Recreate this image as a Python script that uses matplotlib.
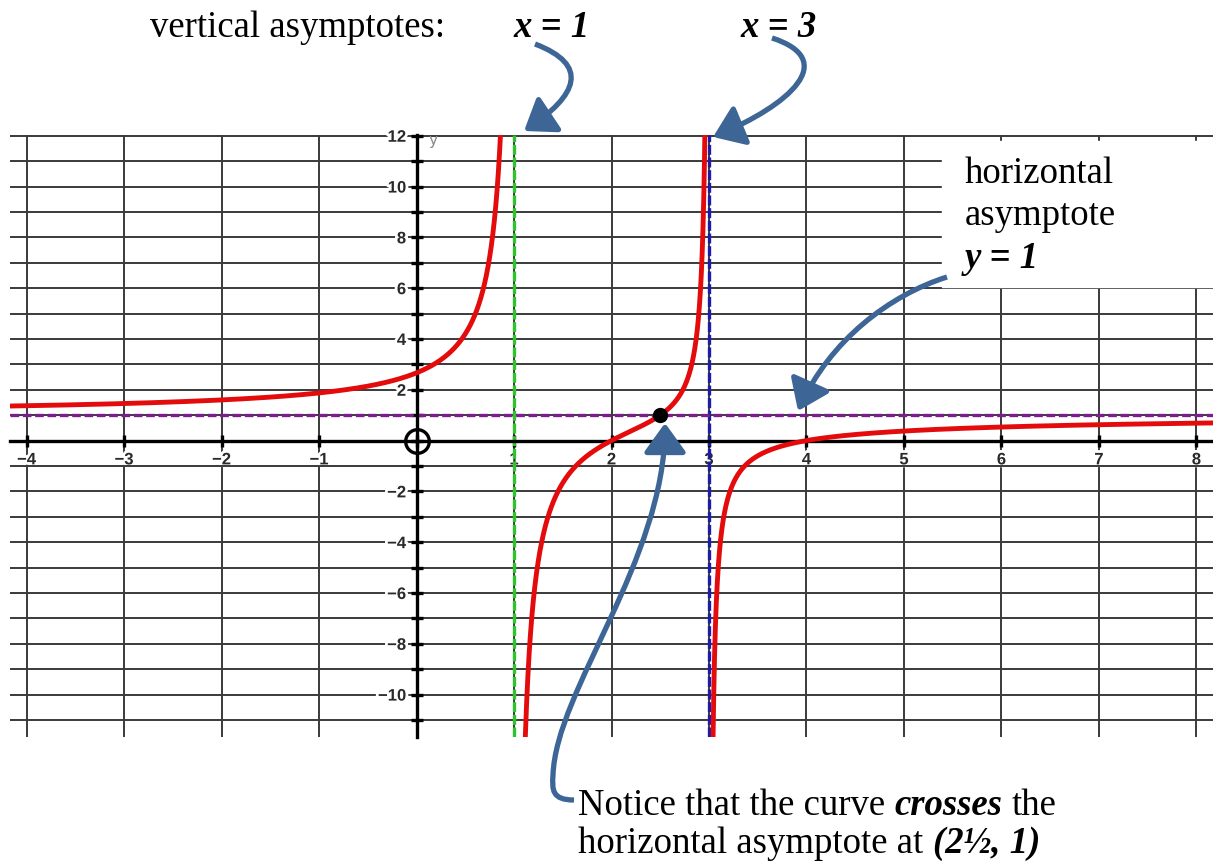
import numpy as np
import matplotlib
matplotlib.use("Agg")
from matplotlib import pyplot as plt
from matplotlib.patches import Rectangle, FancyArrowPatch
from matplotlib.path import Path
import matplotlib.patheffects as pe

# rational function: zeros, poles, horizontal asymptote
zeros = [2, 4]
poles = [1, 3]
h_asym = 1
cross_pt = (2.5, 1)

x_ticks = [-4, -3, -2, -1, 0, 1, 2, 3, 4, 5, 6, 7, 8]
y_ticks = list(range(-11, 13))

serif = "Liberation Serif"
fs = 26.5


def f(x):
    return h_asym * np.polyval(np.poly(zeros), x) / np.polyval(np.poly(poles), x)


fig = plt.figure(figsize=(12.13, 8.63), dpi=100)
ax = fig.add_axes([10/1213, 126/863, 1203/1213, 602/863])
ax.set_xlim(-4.17, 8.17)
ax.set_ylim(-11.67, 12.03)

# grid
ax.set_axisbelow(True)
ax.grid(True, color="#3a3a3a", lw=1.4)
ax.add_patch(Rectangle((5.39, 6.05), 3.0, 5.75, color="white", zorder=1))

# axes through origin
for s in ["top", "right"]:
    ax.spines[s].set_visible(False)
ax.spines["left"].set_position(("data", 0))
ax.spines["bottom"].set_position(("data", 0))
ax.spines["left"].set_linewidth(2.4)
ax.spines["bottom"].set_linewidth(2.4)

ax.set_xticks(x_ticks)
ax.set_xticklabels(["" if v == 0 else str(v).replace("-", "\u2212") for v in x_ticks])
ax.set_yticks(y_ticks)
ax.set_yticklabels(["" if (v == 0 or v % 2) else str(v).replace("-", "\u2212") for v in y_ticks])
ax.tick_params(direction="inout", length=9, width=2.4, color="black",
               labelsize=12, labelcolor="#2a2a2a")
ax.tick_params(axis="x", pad=4)
ax.tick_params(axis="y", pad=3)
halo = [pe.withStroke(linewidth=4, foreground="white")]
for lab in ax.get_xticklabels() + ax.get_yticklabels():
    lab.set_fontweight("bold")
    lab.set_family("Liberation Sans")
    lab.set_path_effects(halo)
ax.text(0.12, 11.8, "y", color="#888888", fontsize=11, va="center", ha="left")

# asymptotes
ax.axvline(poles[0], color="#2fc42f", lw=2.4, ls=(0, (3, 0.8)), zorder=2.5)
ax.axvline(poles[1], color="#1c1ca8", lw=2.4, ls=(0, (3, 0.8)), zorder=2.5)
ax.axhline(h_asym, color="#7d1c8c", lw=2.4, ls=(0, (2.6, 1.1)), zorder=2.5)

# curve, one branch between each pair of poles
xlo, xhi = ax.get_xlim()
edges = [xlo] + poles + [xhi]
for a, b in zip(edges[:-1], edges[1:]):
    xs = np.linspace(a + 1e-4, b - 1e-4, 4000)
    ys = f(xs)
    ys = np.where(np.abs(ys) > 60, np.nan, ys)
    ax.plot(xs, ys, color="#e30b0b", lw=3.5, zorder=3, solid_capstyle="round")

ax.plot(0, 0, "o", ms=17, mfc="none", mec="black", mew=2.4, zorder=5, clip_on=False)
ax.plot(*cross_pt, "o", ms=10, color="black", zorder=6)

# annotation layer in pixel coordinates
ov = fig.add_axes([0, 0, 1, 1])
ov.set_xlim(0, 1213)
ov.set_ylim(863, 0)
ov.axis("off")
ov.patch.set_visible(False)

bi = dict(family=serif, fontsize=fs, fontweight="bold", style="italic")
rg = dict(family=serif, fontsize=fs)

ov.text(150, 37, "vertical asymptotes:", va="baseline", **rg)
ov.text(513, 37, "x = 1", va="baseline", **bi)
ov.text(740, 37, "x = 3", va="baseline", **bi)
ov.text(965, 183, "horizontal", va="baseline", **rg)
ov.text(965, 225, "asymptote", va="baseline", **rg)
ov.text(965, 268, "y = 1", va="baseline", **bi)

t1 = ov.text(578, 815, "Notice that the curve", va="baseline", **rg)
t2 = ov.annotate("crosses", xy=(1, 0), xycoords=t1, xytext=(6.8, 0),
                 textcoords="offset points", va="bottom", **bi)
ov.annotate("the", xy=(1, 0), xycoords=t2, xytext=(6.8, 0),
            textcoords="offset points", va="bottom", **rg)
t3 = ov.text(578, 853, "horizontal asymptote at", va="baseline", **rg)
ov.annotate("(2\u00bd, 1)", xy=(1, 0), xycoords=t3, xytext=(6.8, 0),
            textcoords="offset points", va="bottom", **bi)

arrow_col = "#3d6697"
C = Path.CURVE4
arrows = [
    ([(535, 44), (590, 65), (578, 95), (524, 131)], [Path.MOVETO, C, C, C]),
    ([(772, 38), (840, 60), (790, 105), (713, 137)], [Path.MOVETO, C, C, C]),
    ([(947, 277), (890, 295), (830, 340), (798, 411)], [Path.MOVETO, C, C, C]),
    ([(574, 800), (552, 800), (552, 790), (553, 775),
      (556, 690), (665, 560), (665, 423)],
     [Path.MOVETO, C, C, C, C, C, C]),
]
for verts, codes in arrows:
    p = FancyArrowPatch(path=Path(verts, codes),
                        arrowstyle="-|>,head_length=0.5,head_width=0.36",
                        mutation_scale=36, lw=3.8, color=arrow_col,
                        capstyle="butt", joinstyle="round")
    ov.add_patch(p)

fig.savefig("out.png", dpi=100)
